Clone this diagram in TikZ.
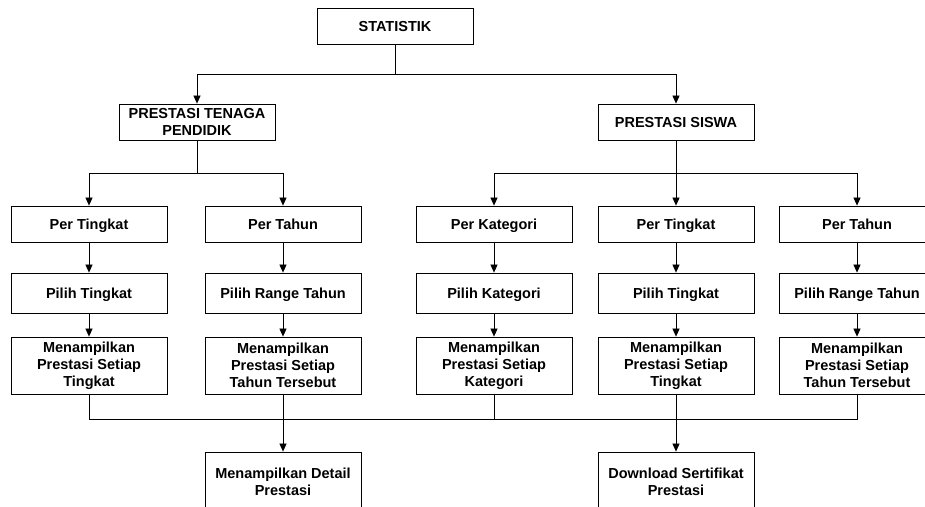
\documentclass[tikz,border=0pt]{standalone}
\usepackage{fontspec}
\setmainfont{Liberation Sans}
\usetikzlibrary{arrows.meta,positioning}
\tikzstyle{kotak}=[draw=black,line width=0.8pt,rectangle,minimum width=156pt,align=center,inner sep=2pt,font=\fontsize{14.5}{17}\selectfont\bfseries]
\tikzstyle{satubaris}=[kotak,text height=10.5pt,text depth=0pt]
\tikzstyle{garis}=[line width=0.7pt]
\tikzstyle{panah}=[garis,-{Triangle[width=7pt,length=8pt]}]

\begin{document}
\begin{tikzpicture}[node distance=69pt,on grid]
	\useasboundingbox (0pt,0pt) rectangle (925pt,-506pt);
	\clip (0pt,0pt) rectangle (925pt,-506pt);

	\node[satubaris,minimum height=36pt]	(stat) at (395pt,-26pt)	{STATISTIK};
	\node[kotak,minimum height=36pt]	(pendidik) at (197pt,-122pt) {PRESTASI TENAGA\\PENDIDIK};
	\node[satubaris,minimum height=36pt]	(siswa) at (676pt,-122pt) {PRESTASI SISWA};

	\node[satubaris,minimum height=36pt]	(per1) at (89pt,-224pt)	{Per Tingkat};
	\node[satubaris,minimum height=36pt]	(per2) [right=194pt of per1] {Per Tahun};
	\node[satubaris,minimum height=36pt]	(per3) at (494pt,-224pt) {Per Kategori};
	\node[satubaris,minimum height=36pt]	(per4) [right=182pt of per3] {Per Tingkat};
	\node[satubaris,minimum height=36pt]	(per5) [right=181pt of per4] {Per Tahun};

	\node[satubaris,minimum height=40pt]	(pilih1) [below=of per1] {Pilih Tingkat};
	\node[satubaris,minimum height=40pt]	(pilih2) [below=of per2] {Pilih Range Tahun};
	\node[satubaris,minimum height=40pt]	(pilih3) [below=of per3] {Pilih Kategori};
	\node[satubaris,minimum height=40pt]	(pilih4) [below=of per4] {Pilih Tingkat};
	\node[satubaris,minimum height=40pt]	(pilih5) [below=of per5] {Pilih Range Tahun};

	\node[kotak,minimum height=57pt]	(tampil1) [below=72.5pt of pilih1] {Menampilkan\\Prestasi Setiap\\Tingkat};
	\node[kotak,minimum height=57pt]	(tampil2) [below=72.5pt of pilih2] {Menampilkan\\Prestasi Setiap\\Tahun Tersebut};
	\node[kotak,minimum height=57pt]	(tampil3) [below=72.5pt of pilih3] {Menampilkan\\Prestasi Setiap\\Kategori};
	\node[kotak,minimum height=57pt]	(tampil4) [below=72.5pt of pilih4] {Menampilkan\\Prestasi Setiap\\Tingkat};
	\node[kotak,minimum height=57pt]	(tampil5) [below=72.5pt of pilih5] {Menampilkan\\Prestasi Setiap\\Tahun Tersebut};

	\node[kotak,minimum height=60pt]	(detail) [below=116.5pt of tampil2] {Menampilkan Detail\\Prestasi};
	\node[kotak,minimum height=60pt]	(unduh) [below=116.5pt of tampil4] {Download Sertifikat\\Prestasi};

	\coordinate (cabang) at (395pt,-74pt);
	\coordinate (kiri) at (197pt,-173pt);
	\coordinate (kanan) at (676pt,-173pt);
	\coordinate (gabung) at (89pt,-419pt);

\draw[garis] (stat) -- (cabang);
\draw[panah] (cabang) -| (pendidik);
\draw[panah] (cabang) -| (siswa);
\draw[garis] (pendidik) -- (kiri);
\draw[panah] (kiri) -| (per1);
\draw[panah] (kiri) -| (per2);
\draw[panah] (siswa) -- (per4);
\draw[panah] (kanan) -| (per3);
\draw[panah] (kanan) -| (per5);
\foreach \i in {1,...,5} {
	\draw[panah] (per\i) -- (pilih\i);
	\draw[panah] (pilih\i) -- (tampil\i);
}
\draw[garis] (tampil1) -- (tampil1 |- gabung) -- (tampil5 |- gabung) -- (tampil5);
\draw[garis] (tampil3) -- (tampil3 |- gabung);
\draw[panah] (tampil2) -- (detail);
\draw[panah] (tampil4) -- (unduh);
\end{tikzpicture}
\end{document}
